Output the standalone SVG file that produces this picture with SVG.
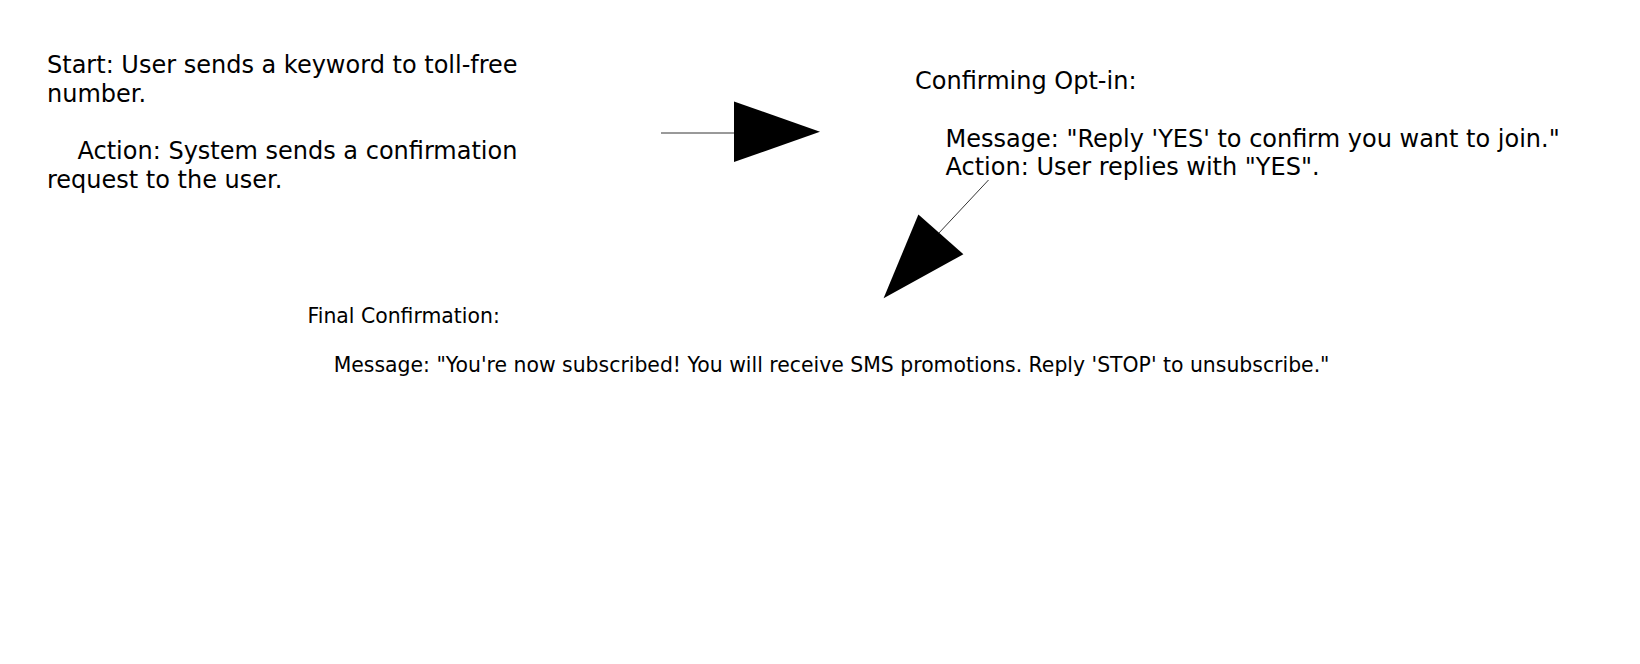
<svg xmlns="http://www.w3.org/2000/svg" width="1640" height="664" viewBox="0 0 1640 664">
<style>
.t{font-family:"DejaVu Sans","Liberation Sans",sans-serif;fill:#000}
.big{font-size:24px}
.small{font-size:20.4px}
.ln{stroke:#000;stroke-width:0.8;fill:none}
</style>
<rect width="1640" height="664" fill="#fff"/>
<g id="connectors">
<line class="ln" x1="661" y1="133" x2="735" y2="133"/>
<polygon points="734,101.5 820,131.8 734,162" fill="#000"/>
<line class="ln" x1="988.5" y1="180" x2="938" y2="234"/>
<polygon points="918.4,214.4 963.4,254.2 883.6,298.2" fill="#000"/>
</g>
<g id="start">
<text class="t big" x="47" y="72.8" xml:space="preserve">Start: User sends a keyword to toll-free</text>
<text class="t big" x="47" y="101.6">number.</text>
<text class="t big" x="47" y="159.2" xml:space="preserve">    Action: System sends a confirmation</text>
<text class="t big" x="47" y="188">request to the user.</text>
</g>
<g id="confirming">
<text class="t big" x="915" y="89">Confirming Opt-in:</text>
<text class="t big" x="945.5" y="146.6">Message: "Reply 'YES' to confirm you want to join."</text>
<text class="t big" x="945.5" y="175.4">Action: User replies with "YES".</text>
</g>
<g id="final">
<text class="t small" x="307.5" y="323">Final Confirmation:</text>
<text class="t small" x="333.7" y="372">Message: "You're now subscribed! You will receive SMS promotions. Reply 'STOP' to unsubscribe."</text>
</g>
</svg>
